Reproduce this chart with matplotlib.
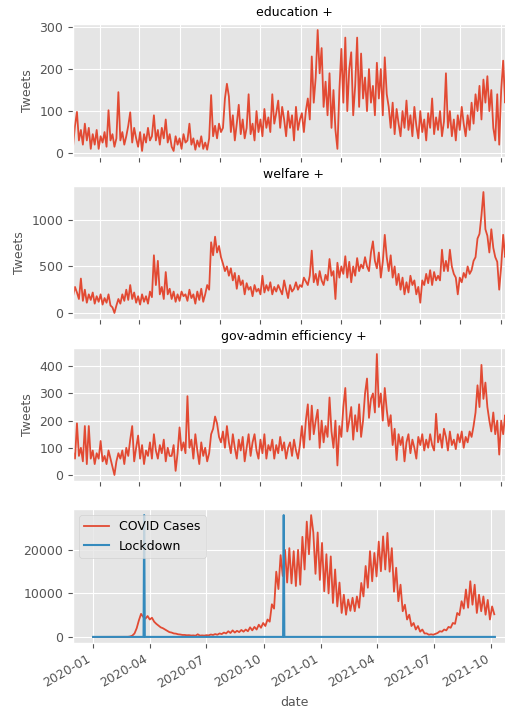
'''
    Daily tweet counts per topic next to COVID cases and lockdowns
'''

import numpy as np
import pandas as pd
import matplotlib
matplotlib.use('Agg')
import matplotlib.pyplot as plt


# Tweet counts, one value every 3 days starting 2019-11-21
tweet_start = '2019-11-21'
tweet_step = '3D'
topics = ['education +', 'welfare +', 'gov-admin efficiency +']

education = [
    15, 65, 98, 30, 55, 20, 70, 30, 60, 10,
    45, 20, 55, 10, 40, 25, 50, 15, 102, 30,
    45, 15, 35, 145, 30, 50, 20, 40, 65, 97,
    25, 60, 35, 15, 50, 5, 45, 25, 60, 30,
    40, 90, 30, 55, 20, 60, 35, 80, 25, 45,
    15, 5, 40, 20, 35, 10, 45, 25, 30, 70,
    20, 35, 8, 30, 15, 40, 10, 25, 8, 35,
    138, 40, 65, 35, 70, 50, 60, 130, 165, 135,
    50, 90, 30, 70, 115, 45, 80, 35, 60, 140,
    45, 70, 30, 100, 50, 80, 40, 105, 60, 85,
    50, 140, 70, 95, 125, 60, 110, 80, 40, 100,
    60, 90, 30, 110, 55, 80, 95, 50, 100, 130,
    80, 230, 120, 180, 293, 190, 250, 110, 170, 90,
    190, 60, 150, 55, 10, 150, 248, 120, 275, 100,
    200, 240, 90, 160, 275, 110, 237, 130, 180, 100,
    200, 120, 160, 90, 215, 130, 200, 90, 228, 140,
    110, 60, 120, 45, 105, 70, 40, 100, 60, 125,
    55, 90, 40, 110, 65, 35, 100, 50, 80, 30,
    95, 60, 130, 45, 85, 55, 100, 40, 75, 190,
    60, 100, 40, 80, 30, 90, 55, 110, 70, 40,
    90, 55, 120, 70, 140, 100, 160, 80, 175, 120,
    183, 100, 150, 60, 30, 140, 20, 150, 220, 120,
    180, 140, 150, 130, 140,
]

welfare = [
    180, 280, 220, 150, 370, 130, 250, 110, 200, 140,
    220, 100, 180, 120, 200, 90, 160, 110, 200, 80,
    60, 0, 80, 150, 100, 200, 130, 250, 140, 300,
    150, 220, 110, 180, 90, 200, 120, 180, 100, 230,
    170, 620, 300, 560, 200, 280, 150, 440, 200, 260,
    150, 230, 120, 200, 130, 230, 180, 200, 130, 250,
    160, 200, 100, 230, 140, 260, 120, 200, 300, 250,
    760, 620, 820, 650, 720, 600, 530, 450, 500, 400,
    480, 350, 430, 260, 400, 300, 350, 200, 320, 250,
    280, 180, 300, 230, 260, 200, 400, 220, 300, 240,
    330, 200, 280, 230, 300, 250, 200, 350, 250, 160,
    300, 230, 260, 330, 250, 300, 280, 380, 340, 300,
    400, 670, 330, 420, 300, 450, 350, 300, 410, 350,
    580, 400, 450, 150, 540, 380, 500, 420, 610, 380,
    550, 330, 500, 400, 590, 450, 520, 480, 600, 500,
    450, 650, 770, 560, 480, 650, 380, 550, 840, 600,
    450, 620, 380, 500, 300, 420, 250, 380, 200, 330,
    220, 400, 300, 350, 200, 280, 110, 350, 300, 420,
    320, 460, 300, 440, 350, 400, 350, 680, 450, 560,
    450, 680, 500, 420, 380, 200, 380, 330, 430, 380,
    500, 420, 460, 560, 600, 800, 850, 1050, 1300, 900,
    830, 650, 900, 700, 600, 550, 250, 500, 840, 600,
    620, 600, 610, 600, 620,
]

gov_admin = [
    85, 60, 190, 70, 100, 50, 180, 40, 180, 60,
    90, 40, 80, 60, 125, 50, 70, 40, 90, 60,
    30, 0, 50, 80, 60, 90, 40, 100, 70, 130,
    180, 50, 100, 145, 60, 110, 40, 90, 70, 120,
    60, 150, 90, 60, 110, 80, 130, 50, 100, 70,
    70, 110, 15, 80, 175, 90, 120, 80, 290, 100,
    130, 60, 150, 90, 40, 120, 70, 100, 50, 80,
    150, 170, 215, 190, 140, 120, 160, 100, 180, 120,
    80, 150, 100, 60, 130, 90, 140, 50, 100, 150,
    70, 120, 150, 90, 60, 130, 80, 150, 60, 110,
    90, 130, 60, 110, 80, 140, 90, 120, 60, 100,
    120, 70, 130, 90, 60, 110, 180, 100, 200, 260,
    130, 255, 150, 200, 240, 100, 200, 120, 180, 140,
    285, 160, 100, 200, 35, 180, 140, 250, 320, 160,
    200, 250, 130, 220, 160, 260, 140, 200, 300, 355,
    210, 280, 300, 230, 445, 250, 300, 200, 320, 240,
    180, 220, 110, 170, 55, 150, 110, 140, 50, 120,
    150, 80, 130, 100, 60, 140, 110, 150, 90, 130,
    100, 150, 110, 90, 225, 120, 150, 100, 170, 140,
    90, 160, 110, 130, 95, 150, 120, 160, 100, 140,
    120, 160, 140, 180, 230, 330, 250, 405, 280, 340,
    250, 200, 160, 230, 150, 200, 75, 200, 150, 220,
    160, 170, 180, 150, 170,
]

# COVID cases, one value every 3.5 days starting 2020-01-01
cases_start = '2020-01-01'
cases_step = '84h'
cases = [
    0, 0, 0, 0, 0, 0, 0, 0, 2, 0, 3, 1, 5, 2, 10, 8, 20,
    100, 300, 800, 2000, 3800, 5300, 4600, 4200, 4800, 4000, 4400,
    3500, 3000, 2600, 2200, 2000, 1700, 1400, 1100, 1000, 800,
    750, 600, 550, 450, 450, 380, 400, 320, 350, 280,
    600, 300, 350, 300, 400, 350, 550, 450, 650, 500,
    800, 650, 1000, 800, 1300, 900, 1500, 1000, 1400, 1100,
    1600, 1200, 1700, 1300, 2200, 1500, 2300, 1700, 2800, 2100,
    3200, 2500, 4000, 3500, 7500, 6500, 15000, 11000, 18800, 14000,
    20000, 12500, 20400, 12300, 19700, 11700, 20000, 12000, 23000, 15500,
    26500, 19000, 28000, 24000, 14500, 24000, 13100, 21600, 10500, 19000,
    10000, 18500, 7800, 15500, 7000, 12500, 5500, 9700, 5100, 8600,
    6000, 9000, 5900, 9300, 6700, 12400, 9300, 16300, 11300, 19700,
    12800, 19300, 13900, 21900, 15100, 23100, 15500, 23900, 15000, 20400,
    10400, 15900, 8200, 12000, 5900, 7400, 4000, 5100, 2500, 3200,
    1700, 2500, 1200, 1700, 800, 800, 500, 600, 500, 700,
    900, 1300, 1200, 1700, 1500, 2300, 2100, 3200, 3000, 5500,
    5000, 8200, 6500, 10900, 6700, 12800, 7400, 12000, 5500, 9700,
    5900, 9300, 5100, 8500, 4000, 7000, 5200,
]

# Lockdown flag (daily), drawn as a spike as tall as the case peak
lockdown_range = ('2020-01-01', '2021-10-07')
lockdown_dates = ['2020-03-23', '2020-11-02']


def tweet_frame():
    idx = pd.date_range(tweet_start, periods=len(education), freq=tweet_step)
    return pd.DataFrame({topics[0]: education,
                         topics[1]: welfare,
                         topics[2]: gov_admin}, index=idx)


def covid_frame():
    idx = pd.date_range(cases_start, periods=len(cases), freq=cases_step)
    cov = pd.Series(cases, index=idx, dtype=float)
    days = pd.date_range(*lockdown_range, freq='D')
    lock = pd.Series(np.zeros(len(days)), index=days)
    lock[pd.to_datetime(lockdown_dates)] = cov.max()
    return cov, lock


if __name__ == '__main__':
    plt.style.use('ggplot')
    plt.rcParams['font.size'] = 9
    plt.rcParams['axes.titlesize'] = 9
    plt.rcParams['axes.labelsize'] = 9
    plt.rcParams['xtick.labelsize'] = 9
    plt.rcParams['ytick.labelsize'] = 9
    plt.rcParams['legend.fontsize'] = 9

    tw = tweet_frame()
    cov, lock = covid_frame()

    W, H = 506, 713
    fig = plt.figure(figsize=(W/100, H/100), dpi=100)

    left, right = 73, 515
    tops = [24, 186, 348, 509]
    hgt = [133, 133, 133, 134]

    axes = []
    for i in range(4):
        rect = [left/W, 1 - (tops[i] + hgt[i])/H, (right - left)/W, hgt[i]/H]
        share = axes[0] if (i in (1, 2)) else None
        axes.append(fig.add_axes(rect, sharex=share))

    ## Tweet panels
    for ax, col in zip(axes[:3], topics):
        ax.plot(tw.index, tw[col], color='#E24A33', linewidth=1.3)
        ax.set_title(col)
        ax.set_ylabel('Tweets')
        ax.tick_params(labelbottom=False)
    axes[0].set_xlim(tw.index[0], tw.index[-1])

    ## COVID panel
    ax = axes[3]
    ax.plot(cov.index, cov.values, color='#E24A33', linewidth=1.3, label='COVID Cases')
    ax.plot(lock.index, lock.values, color='#348ABD', linewidth=1.5, label='Lockdown')
    ax.set_xlabel('date')
    ax.legend(loc='upper left')
    plt.setp(ax.get_xticklabels(), rotation=30, ha='right')

    fig.savefig('out.png', dpi=100)
